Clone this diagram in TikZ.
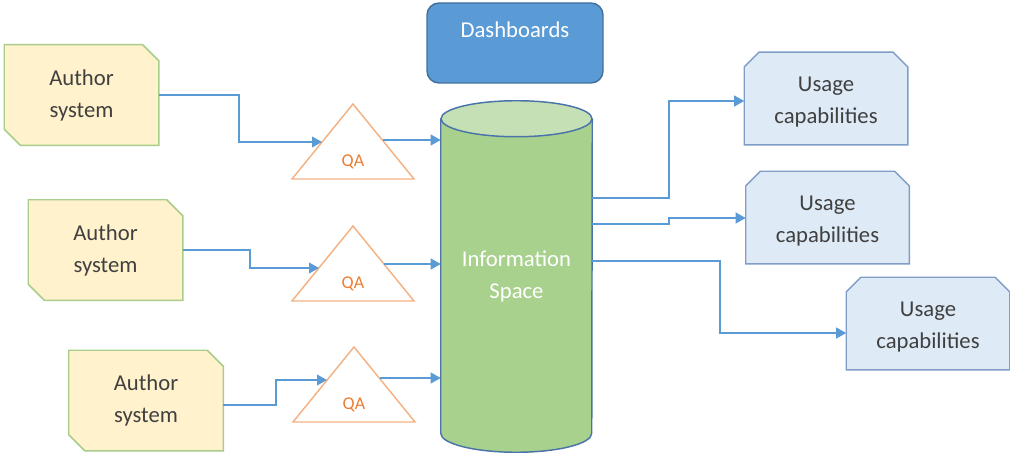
\documentclass[tikz,border=0pt]{standalone}
\usepackage{fontspec}
\setmainfont{Carlito}
\usetikzlibrary{arrows.meta,calc,backgrounds}

\definecolor{authfill}{HTML}{FFF2CC}
\definecolor{authline}{HTML}{A9CD8A}
\definecolor{usefill}{HTML}{DEEBF7}
\definecolor{useline}{HTML}{7F9DC6}
\definecolor{dashfill}{HTML}{5B9BD5}
\definecolor{dashline}{HTML}{41719C}
\definecolor{cylbody}{HTML}{A9D18E}
\definecolor{cyltop}{HTML}{C5E0B4}
\definecolor{cylline}{HTML}{4A74A8}
\definecolor{flowc}{HTML}{5B9BD5}
\definecolor{qaline}{HTML}{F4B183}
\definecolor{qatext}{HTML}{ED7D31}
\definecolor{txt}{HTML}{404040}

\tikzset{
  author/.style={minimum width=115.5pt, minimum height=75pt, inner sep=0pt,
    align=center, text=txt},
  usage/.style={minimum width=122.25pt, minimum height=69pt, inner sep=0pt,
    align=center, text=txt},
  authframe/.style={fill=authfill, draw=authline, line width=1.1pt},
  useframe/.style={fill=usefill, draw=useline, line width=1.1pt},
  qalabel/.style={inner sep=0pt, text=qatext, font=\fontsize{13.5}{15}\selectfont},
  qaframe/.style={draw=qaline, line width=1.1pt, line join=miter},
  flow/.style={draw=flowc, line width=1.5pt,
    -{Triangle[length=7.5pt,width=8pt]}},
}

% chamfered frames drawn behind the text nodes
\newcommand\authorframe[1]{%
  \filldraw[authframe] (#1.north west) -- ([xshift=-12pt]#1.north east)
    -- ([yshift=-12pt]#1.north east) -- (#1.south east)
    -- ([xshift=12pt]#1.south west) -- ([yshift=12pt]#1.south west) -- cycle;}
% usage frames sit 3pt above their text block
\newcommand\usageframe[1]{%
  \filldraw[useframe] ([yshift=-8pt]#1.north west) -- ([xshift=11pt,yshift=3pt]#1.north west)
    -- ([xshift=-11pt,yshift=3pt]#1.north east) -- ([yshift=-8pt]#1.north east)
    -- ([yshift=3pt]#1.south east) -- ([yshift=3pt]#1.south west) -- cycle;}
% triangle around a QA label: apex 58 units above, base 17 units below
\newcommand\qatriangle[1]{%
  \draw[qaframe] ($(#1)+(0,-58)$) -- ($(#1)+(61,17)$) -- ($(#1)+(-61,17)$) -- cycle;}

\begin{document}
\begin{tikzpicture}[x=0.75pt, y=-0.75pt, font=\fontsize{17}{24}\selectfont]
\useasboundingbox (0,0) rectangle (1010,453);

% sources
\node[author] (a1) at (81.5,95)  {Author\\system};
\node[author] (a2) at (105.5,250) {Author\\system};
\node[author] (a3) at (146,400.5) {Author\\system};

% quality gates
\node[qalabel] (q1) at (353,162) {QA};
\node[qalabel] (q2) at (353,284) {QA};
\node[qalabel] (q3) at (354,405) {QA};
\coordinate (q1in)  at (322,142);
\coordinate (q1out) at (383,140);
\coordinate (q2in)  at (319,268);
\coordinate (q2out) at (384,264);
\coordinate (q3in)  at (327,380);
\coordinate (q3out) at (380,378);

% central store
\node[minimum width=113.25pt, minimum height=235.5pt, inner sep=0pt,
      align=center, text=white] (info) at (516.5,276) {Information\\Space};

% dashboards
\node[draw=dashline, fill=dashfill, line width=1.1pt, rounded corners=9pt,
      minimum width=132pt, minimum height=60pt, inner sep=0pt,
      text height=26pt, text depth=34pt, text=white] (dash) at (515,43) {Dashboards};

% consumers
\node[usage] (u1) at (826,102.5)   {Usage\\capabilities};
\node[usage] (u2) at (827.5,221.5) {Usage\\capabilities};
\node[usage] (u3) at (928,327.5)  {Usage\\capabilities};

\begin{pgfonlayer}{background}
  \authorframe{a1}
  \authorframe{a2}
  \authorframe{a3}
  \usageframe{u1}
  \usageframe{u2}
  \usageframe{u3}
  \qatriangle{q1}
  \qatriangle{q2}
  \qatriangle{q3}
  % cylinder
  \fill[cylbody] (info.north west) -- (info.south west)
    arc[start angle=180, end angle=360, x radius=56.625pt, y radius=14.25pt]
    -- (info.north east) -- cycle;
  \draw[cylline, line width=1.1pt] (info.north west) -- (info.south west)
    arc[start angle=180, end angle=360, x radius=56.625pt, y radius=14.25pt]
    -- (info.north east);
  \filldraw[fill=cyltop, draw=cylline, line width=1.1pt]
    (info.north) ellipse [x radius=56.625pt, y radius=13.5pt];
\end{pgfonlayer}

% authors into quality gates
\draw[flow] (a1.east) -- ++(80,0) |- (q1in);
\draw[flow] (a2.east) -- ++(67,0) |- (q2in);
\draw[flow] (a3.east |- 0,405) -- ++(53,0) |- (q3in);

% quality gates into the store
\draw[flow] (q1out) -- (q1out -| info.west);
\draw[flow] (q2out) -- (q2out -| info.west);
\draw[flow] (q3out) -- (q3out -| info.west);

% store out to consumers
\draw[flow] (info.east |- 0,198) -- ++(77,0) |- (u1.west |- 0,101);
\draw[flow] (info.east |- 0,224) -- ++(77,0) |- (u2.west |- 0,218);
\draw[flow] (info.east |- 0,261) -- ++(128,0) |- (u3.west |- 0,333);
\end{tikzpicture}
\end{document}
